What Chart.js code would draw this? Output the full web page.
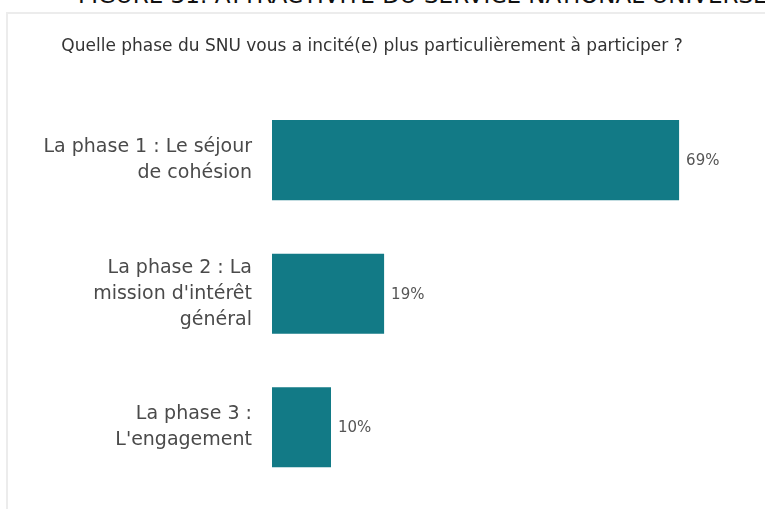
<!DOCTYPE html>
<html lang="fr">
<head>
<meta charset="utf-8">
<script src="https://cdn.jsdelivr.net/npm/chart.js@4"></script>
<style>
  html, body { margin: 0; padding: 0; background: #fff; overflow: hidden; }
  #wrap { position: relative; width: 765px; height: 509px; overflow: hidden; }
  #figTitle {
    position: absolute; left: 78px; top: -18px; white-space: nowrap;
    font-family: "DejaVu Sans", sans-serif; font-size: 23px; color: #111;
  }
  #card {
    position: absolute; left: 6px; top: 12px; width: 800px; height: 520px;
    border-left: 2px solid #ececec; border-top: 2px solid #ececec;
  }
  canvas { position: absolute; left: 0; top: 0; }
</style>
</head>
<body>
<div id="wrap">
  <div id="figTitle">FIGURE 31: ATTRACTIVITÉ DU SERVICE NATIONAL UNIVERSEL</div>
  <div id="card"></div>
  <canvas id="snuChart" width="765" height="509"></canvas>
</div>
<script>
// Données du graphique
const question = 'Quelle phase du SNU vous a incité(e) plus particulièrement à participer ?';
const categories = [
  ['La phase 1 : Le séjour', 'de cohésion'],
  ['La phase 2 : La', "mission d'intérêt", 'général'],
  ['La phase 3 :', "L'engagement"]
];
const values = [69, 19, 10];

// Étiquettes de valeur au bout des barres
const valueLabels = {
  id: 'valueLabels',
  afterDatasetsDraw(chart) {
    const ctx = chart.ctx;
    const meta = chart.getDatasetMeta(0);
    ctx.save();
    ctx.font = '15px "DejaVu Sans", sans-serif';
    ctx.fillStyle = '#555';
    ctx.textAlign = 'left';
    ctx.textBaseline = 'middle';
    meta.data.forEach((bar, i) => {
      ctx.fillText(values[i] + '%', bar.x + 7, bar.y + 1);
    });
    ctx.restore();
  }
};

const chart = new Chart(document.getElementById('snuChart'), {
  type: 'bar',
  data: {
    labels: categories,
    datasets: [{
      data: values,
      backgroundColor: '#127a86',
      borderWidth: 0,
      categoryPercentage: 1,
      barPercentage: 0.6
    }]
  },
  options: {
    indexAxis: 'y',
    responsive: false,
    animation: false,
    layout: { padding: { top: 0, right: 21, bottom: 15, left: 0 } },
    plugins: {
      legend: { display: false },
      tooltip: { enabled: false },
      title: {
        display: true,
        text: question,
        color: '#333',
        font: { family: 'DejaVu Sans', size: 17, weight: 'normal', lineHeight: 1.2 },
        padding: { top: 36, bottom: 37 }
      }
    },
    scales: {
      x: {
        display: false,
        min: 0,
        max: 80
      },
      y: {
        grid: { display: false, drawTicks: false },
        border: { display: false },
        afterFit: function(scale) {
          scale.width = 272;
          scale.paddingTop = 0;
          scale.paddingBottom = 0;
        },
        ticks: {
          padding: 20,
          color: '#4a4a4a',
          font: { family: 'DejaVu Sans', size: 19, lineHeight: 1.37 }
        }
      }
    }
  },
  plugins: [valueLabels]
});
</script>
</body>
</html>
